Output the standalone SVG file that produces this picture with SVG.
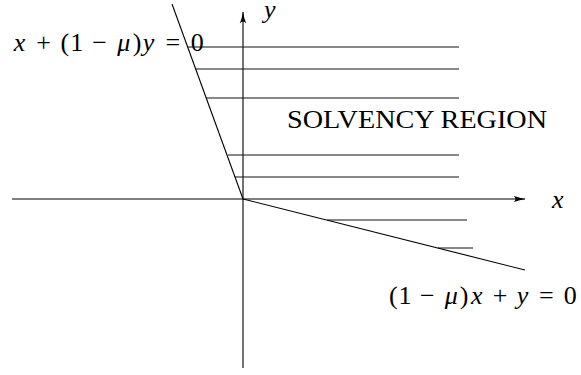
<svg xmlns="http://www.w3.org/2000/svg" width="581" height="375" viewBox="0 0 581 375">
<style>
.ln{stroke:#000;stroke-width:1.1;fill:none}
.h{stroke:#111;stroke-width:1;fill:none}
.t{font-family:"Liberation Serif","Times New Roman",serif;font-size:26px;fill:#000}
.m{font-family:"Liberation Serif","Times New Roman",serif;font-size:26px;fill:#000;text-anchor:middle}
.i{font-style:italic}
</style>
<defs>
<marker id="arr" viewBox="0 0 12 8" refX="11.5" refY="4" markerWidth="12" markerHeight="8" markerUnits="userSpaceOnUse" orient="auto">
<path d="M0,0.8 Q6,3.2 12,4 Q6,4.8 0,7.2 Q4,4 0,0.8 Z" fill="#000"/>
</marker>
</defs>
<rect width="581" height="375" fill="#fff"/>
<g id="axes">
<line class="ln" x1="12" y1="199" x2="525" y2="199" marker-end="url(#arr)"/>
<line class="ln" x1="243" y1="368" x2="243" y2="12" marker-end="url(#arr)"/>
</g>
<g id="boundaries">
<line class="ln" x1="172" y1="4" x2="243" y2="199"/>
<line class="ln" x1="243" y1="199" x2="525" y2="270"/>
</g>
<g id="hatching">
<line class="h" x1="187" y1="47" x2="459" y2="47"/>
<line class="h" x1="195" y1="69" x2="459" y2="69"/>
<line class="h" x1="206" y1="98" x2="459" y2="98"/>
<line class="h" x1="228" y1="155" x2="459" y2="155"/>
<line class="h" x1="235" y1="177" x2="459" y2="177"/>
<line class="h" x1="327" y1="220" x2="467" y2="220"/>
<line class="h" x1="438" y1="248" x2="473" y2="248"/>
</g>
<g id="labels">
<text class="m" y="51"><tspan class="i" x="19.6">x</tspan><tspan x="43.5">+</tspan><tspan x="64.9">(</tspan><tspan x="76.7">1</tspan><tspan x="99.6">−</tspan><tspan class="i" x="123.8">μ</tspan><tspan x="137">)</tspan><tspan class="i" x="148.6">y</tspan><tspan x="172.9">=</tspan><tspan x="197.3">0</tspan></text>
<text class="t i" x="264" y="18">y</text>
<text class="t i" x="552" y="208">x</text>
<text class="t" x="287" y="128" textLength="260" lengthAdjust="spacingAndGlyphs">SOLVENCY REGION</text>
<text class="m" y="304"><tspan x="393.4">(</tspan><tspan x="405">1</tspan><tspan x="427.4">−</tspan><tspan class="i" x="451.3">μ</tspan><tspan x="464.2">)</tspan><tspan class="i" x="476.7">x</tspan><tspan x="500.1">+</tspan><tspan class="i" x="522.5">y</tspan><tspan x="546.3">=</tspan><tspan x="570.2">0</tspan></text>
</g>
</svg>
